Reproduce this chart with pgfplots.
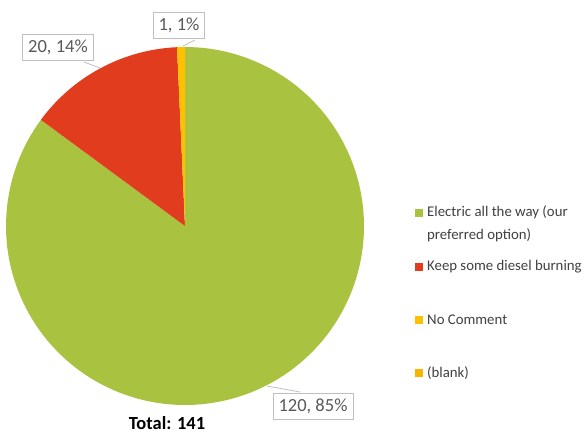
\documentclass[border=0pt]{standalone}
\usepackage{pgfplots}
\usepackage{pgfplotstable}
\pgfplotsset{compat=1.18}
\usepackage{fontspec}
\setmainfont{Carlito}

\definecolor{cgreen}{HTML}{A9C23F}
\definecolor{cred}{HTML}{E23C1F}
\definecolor{cyellow}{HTML}{FFC000}
\definecolor{cblank}{HTML}{F7B500}
\definecolor{cbox}{HTML}{BFBFBF}
\definecolor{clabel}{HTML}{595959}
\definecolor{clegend}{HTML}{404040}

% survey answers
\pgfplotstableread{
answer value
electric 120
diesel 20
nocomment 1
blank 0
}\piedata

\pgfplotstablegetelem{0}{value}\of\piedata \let\va\pgfplotsretval
\pgfplotstablegetelem{1}{value}\of\piedata \let\vb\pgfplotsretval
\pgfplotstablegetelem{2}{value}\of\piedata \let\vc\pgfplotsretval
\pgfplotstablegetelem{3}{value}\of\piedata \let\vd\pgfplotsretval
\pgfmathsetmacro\total{\va+\vb+\vc+\vd}
% cumulative angles, clockwise from 12 o'clock
\pgfmathsetmacro\aA{360*(\va/\total)}
\pgfmathsetmacro\aB{360*((\va+\vb)/\total)}
\pgfmathsetmacro\aC{360*((\va+\vb+\vc)/\total)}

\def\cx{185}
\def\cy{226}
\def\R{179}

\begin{document}
\begin{tikzpicture}
\begin{axis}[
    x=1pt, y=1pt,
    xmin=0, xmax=586, ymin=0, ymax=433,
    y dir=reverse,
    hide axis,
    clip=false,
    anchor=origin,
]
\path (0,0) rectangle (586,433);

\addplot[fill=cgreen, draw=none, domain=0:\aA, samples=150, variable=\t]
    ({\cx+\R*sin(\t)}, {\cy-\R*cos(\t)}) -- (\cx,\cy) -- cycle;
\addplot[fill=cred, draw=none, domain=\aA:\aB, samples=40, variable=\t]
    ({\cx+\R*sin(\t)}, {\cy-\R*cos(\t)}) -- (\cx,\cy) -- cycle;
\addplot[fill=cyellow, draw=none, domain=\aB:\aC, samples=5, variable=\t]
    ({\cx+\R*sin(\t)}, {\cy-\R*cos(\t)}) -- (\cx,\cy) -- cycle;

% leader lines
\draw[cbox, line width=0.8pt] (183,46) -- (195,40);
\draw[cbox, line width=0.8pt] (100,68) -- (84,62);
\draw[cbox, line width=0.8pt] (267,386) -- (300,392);

% data labels
\tikzset{dlabel/.style={draw=cbox, line width=0.8pt, fill=white, text=clabel,
    font=\fontsize{18.5}{20}\selectfont, inner xsep=5.5pt, inner ysep=5.5pt}}
\node[dlabel] at (179,25) {1, 1\%};
\node[dlabel] at (58,47) {20, 14\%};
\node[dlabel] at (313,406) {120, 85\%};

\node[font=\fontsize{18.5}{20}\selectfont\bfseries] at (167,423) {Total: 141};

% legend
\tikzset{lgtext/.style={anchor=west, text=clegend, font=\fontsize{14.8}{23}\selectfont, inner sep=0pt, align=left}}
\fill[cgreen] (415,209) rectangle (423,217);
\node[lgtext, anchor=north west] at (427,205) {Electric all the way (our\\preferred option)};
\fill[cred] (415,263) rectangle (423,271);
\node[lgtext] at (427,267) {Keep some diesel burning};
\fill[cyellow] (415,316) rectangle (423,324);
\node[lgtext] at (427,320) {No Comment};
\fill[cblank] (415,369) rectangle (423,377);
\node[lgtext] at (427,373) {(blank)};
\end{axis}
\end{tikzpicture}
\end{document}
